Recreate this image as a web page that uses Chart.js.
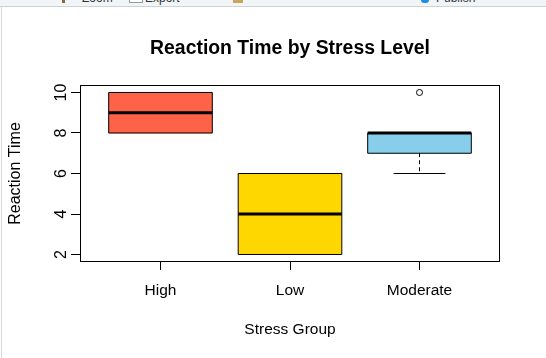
<!DOCTYPE html>
<html>
<head>
<meta charset="utf-8">
<style>
  html, body { margin: 0; background: #fff; overflow: hidden; }
  #wrap { position: relative; width: 546px; height: 358px; }
  #my-chart { position: absolute; left: 0; top: 0; }
  #toolbar { position: absolute; left: 0; top: 0; width: 546px; height: 7px; background: #f2f5f7; border-bottom: 1px solid #cdd4d8; overflow: hidden; box-sizing: border-box; font: 12px "Liberation Sans", sans-serif; color: #333; }
  #toolbar span { position: absolute; top: -9px; white-space: nowrap; }
  #toolbar i { position: absolute; display: block; }
  #edge { position: absolute; left: 1px; top: 7px; width: 1px; height: 351px; background: #d9d9d9; }
</style>
</head>
<body>
<div id="wrap">
  <canvas id="my-chart" width="546" height="358"></canvas>
  <div id="toolbar">
    <i style="left:62px;top:0;width:3px;height:3px;background:#8a6a3a"></i>
    <span style="left:82px">Zoom</span>
    <i style="left:129px;top:0;width:12px;height:2px;border:1px solid #999;border-top:0;background:#fff"></i>
    <span style="left:145px">Export</span>
    <i style="left:233px;top:0;width:10px;height:3px;background:#c9a45c"></i>
    <i style="left:421px;top:0;width:8px;height:3px;background:#1e90e0;border-radius:0 0 4px 4px"></i>
    <span style="left:436px">Publish</span>
  </div>
  <div id="edge"></div>
</div>
<script src="https://cdn.jsdelivr.net/npm/chart.js@4"></script>
<script>
const categories = ['High', 'Low', 'Moderate'];
const lowerWhisker = [8, 2, 6];
const q1Values = [8, 2, 7];
const medianValues = [9, 4, 8];
const q3Values = [10, 6, 8];
const upperWhisker = [10, 6, 8];
const outlierPoints = [{ x: 3, y: 10 }];
const boxColors = ['#FF6347', '#FFD700', '#87CEEB'];
const yTickLabels = [2, 4, 6, 8, 10];

const FONT = '"Liberation Sans", Arial, sans-serif';
const BOX = 0.4;  // half box width, in x units
const CAP = 0.2;

// little helper for the median / whisker / cap / box edge segments
function segment(x1, y1, x2, y2, width, dash) {
  return {
    type: 'scatter',
    data: [{ x: x1, y: y1 }, { x: x2, y: y2 }],
    showLine: true,
    borderColor: '#000',
    borderWidth: width,
    borderDash: dash || [],
    pointRadius: 0,
    order: 1
  };
}

const datasets = [
  {
    type: 'bar',
    data: categories.map((c, i) => ({ x: i + 1, y: [q1Values[i], q3Values[i]] })),
    backgroundColor: boxColors,
    borderWidth: 0,
    barThickness: 103,
    order: 3
  },
  {
    type: 'scatter',
    data: outlierPoints,
    pointRadius: 3,
    pointBackgroundColor: 'rgba(0,0,0,0)',
    pointBorderColor: '#000',
    pointBorderWidth: 1,
    order: 1
  }
];

categories.forEach((c, i) => {
  const x = i + 1;
  // box outline, drawn as lines so the edges stay sharp
  datasets.push(segment(x - BOX, q1Values[i], x + BOX, q1Values[i], 1));
  datasets.push(segment(x - BOX, q3Values[i], x + BOX, q3Values[i], 1));
  datasets.push(segment(x - BOX, q1Values[i], x - BOX, q3Values[i], 1));
  datasets.push(segment(x + BOX, q1Values[i], x + BOX, q3Values[i], 1));
  datasets.push(segment(x - BOX, medianValues[i], x + BOX, medianValues[i], 3));
  // whiskers only where they leave the box
  if (lowerWhisker[i] !== q1Values[i]) {
    datasets.push(segment(x, q1Values[i], x, lowerWhisker[i], 1, [4, 3]));
    datasets.push(segment(x - CAP, lowerWhisker[i], x + CAP, lowerWhisker[i], 1));
  }
  if (upperWhisker[i] !== q3Values[i]) {
    datasets.push(segment(x, q3Values[i], x, upperWhisker[i], 1, [4, 3]));
    datasets.push(segment(x - CAP, upperWhisker[i], x + CAP, upperWhisker[i], 1));
  }
});

// box round the plot, like R's box()
const plotBox = {
  id: 'plotBox',
  afterDraw(chart) {
    const a = chart.chartArea;
    const c = chart.ctx;
    c.save();
    c.strokeStyle = '#000';
    c.lineWidth = 1;
    c.strokeRect(Math.round(a.left) + 0.5, Math.round(a.top) + 0.5, Math.round(a.width) - 1, Math.round(a.height) - 1);
    c.restore();
  }
};

new Chart(document.getElementById('my-chart').getContext('2d'), {
  data: { datasets },
  plugins: [plotBox],
  options: {
    responsive: false,
    animation: false,
    layout: { padding: { right: 46 } },
    plugins: {
      legend: { display: false },
      tooltip: { enabled: false },
      title: {
        display: true,
        fullSize: false,
        text: 'Reaction Time by Stress Level',
        color: '#000',
        font: { family: FONT, size: 19.4, weight: 'bold' },
        padding: { top: 37, bottom: 24.72 }
      }
    },
    scales: {
      x: {
        type: 'linear',
        offset: false,
        min: 0.3784,
        max: 3.6216,
        grid: { offset: false, drawOnChartArea: false, tickLength: 8, tickColor: '#000', tickWidth: 1 },
        border: { display: false },
        afterBuildTicks(scale) { scale.ticks = categories.map((c, i) => ({ value: i + 1 })); },
        afterFit(scale) { scale.height = 96; },
        ticks: {
          autoSkip: false,
          maxRotation: 0,
          padding: 11,
          color: '#000',
          font: { family: FONT, size: 15.5 },
          callback: v => categories[v - 1]
        },
        title: {
          display: true,
          text: 'Stress Group',
          color: '#000',
          font: { family: FONT, size: 15.5 },
          padding: { top: 16, bottom: 19 }
        }
      },
      y: {
        min: 1.63,
        max: 10.37,
        grid: { drawOnChartArea: false, tickLength: 9, tickColor: '#000', tickWidth: 1 },
        border: { display: false },
        afterBuildTicks(scale) { scale.ticks = yTickLabels.map(v => ({ value: v })); },
        afterFit(scale) { scale.width = 80; },
        ticks: {
          minRotation: 90,
          maxRotation: 90,
          crossAlign: 'center',
          padding: 1,
          color: '#000',
          font: { family: FONT, size: 16 }
        },
        title: {
          display: true,
          text: 'Reaction Time',
          color: '#000',
          font: { family: FONT, size: 16 },
          padding: { top: 6, bottom: 0 }
        }
      }
    }
  }
});
</script>
</body>
</html>
